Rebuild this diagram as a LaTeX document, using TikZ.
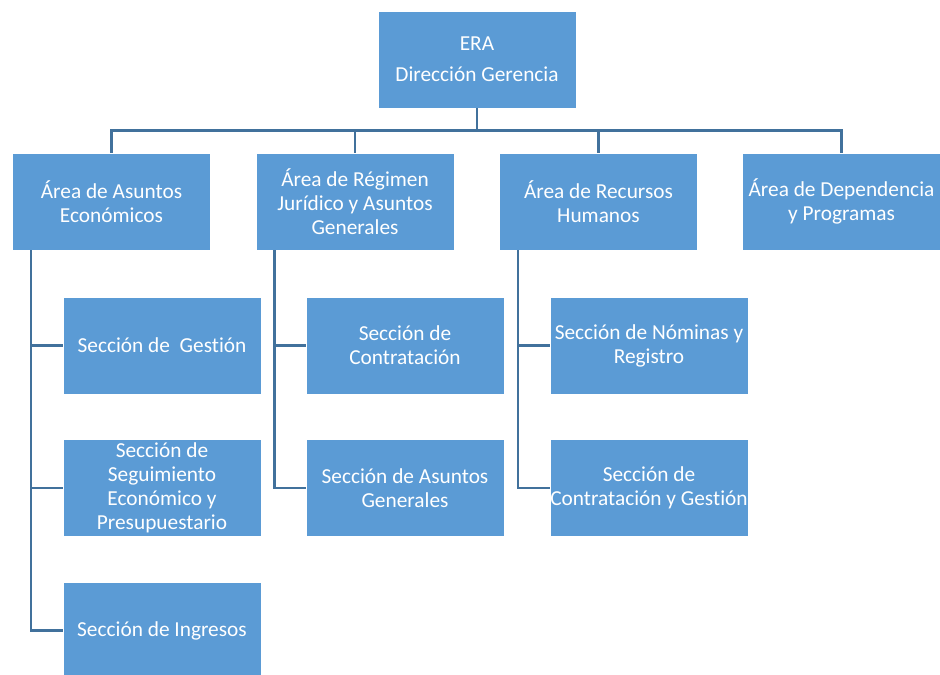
\documentclass[tikz,border=0pt]{standalone}
\usepackage{fontspec}
\setmainfont{Carlito}[Ligatures=NoCommon]
\usetikzlibrary{calc}
\definecolor{boxblue}{HTML}{5B9BD5}
\definecolor{lineblue}{HTML}{41719C}

\begin{document}
\begin{tikzpicture}[x=0.75pt,y=-0.75pt]
\tikzset{box/.style = {shape=rectangle,draw=white,line width=0.6pt,fill=boxblue,
		text=white,align=center,inner sep=1pt,
		minimum width=148.5pt,minimum height=72.75pt,
		font=\fontsize{16}{18}\selectfont}}
\tikzset{link/.style = {draw=lineblue,line width=2pt}}
\useasboundingbox (0,0) rectangle (940,675);
% boxes
\node[box] (era) at (477,59.5) {ERA\\[5pt]Dirección Gerencia};
\node[box] (econ) at (111.5,201.5) {Área de Asuntos\\Económicos};
\node[box] (jur) at (355,201.5) {Área de Régimen\\Jurídico y Asuntos\\Generales};
\node[box] (rrhh) at (598.5,201.5) {Área de Recursos\\Humanos};
\node[box] (dep) at (841.5,201.5) {Área de Dependencia\\y Programas};

\node[box] (ges) at (162,345.5) {Sección de\ \ Gestión};
\node[box] (seg) at (162,488) {Sección de\\Seguimiento\\Económico y\\Presupuestario};
\node[box] (ing) at (162,630.5) {Sección de Ingresos};
\node[box] (con) at (405,345.5) {Sección de\\Contratación};
\node[box] (gen) at (405,488) {Sección de Asuntos\\Generales};
\node[box] (nom) at (649,345.5) {Sección de Nóminas y\\Registro};
\node[box] (cyg) at (649,488) {Sección de\\\makebox[144pt]{Contratación y Gestión}};

% lines
\draw[link] (era.south) -- ++(0,22) -| (econ.north);
\draw[link] (era.south) -- ++(0,22) -| (jur.north);
\draw[link] (era.south) -- ++(0,22) -| (rrhh.north);
\draw[link] (era.south) -- ++(0,22) -| (dep.north);

\coordinate (t1) at ($(econ.south west)+(19,0)$);
\coordinate (t2) at ($(jur.south west)+(19,0)$);
\coordinate (t3) at ($(rrhh.south west)+(19,0)$);
\draw[link] (t1) |- (ges.west);
\draw[link] (t1) |- (seg.west);
\draw[link] (t1) |- (ing.west);
\draw[link] (t2) |- (con.west);
\draw[link] (t2) |- (gen.west);
\draw[link] (t3) |- (nom.west);
\draw[link] (t3) |- (cyg.west);
\end{tikzpicture}
\end{document}
